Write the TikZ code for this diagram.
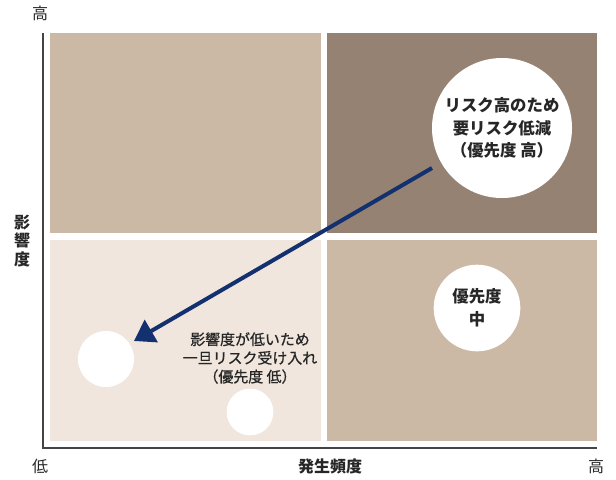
\documentclass[tikz,border=0pt]{standalone}
\usepackage{fontspec}
\setmainfont{Noto Sans CJK JP}
\newfontfamily\medfont{Noto Sans CJK JP}[FakeBold=0.8]
\usetikzlibrary{arrows.meta}
\definecolor{cellmid}{HTML}{CBB8A5}
\definecolor{celldark}{HTML}{968273}
\definecolor{celllight}{HTML}{F0E6DD}
\definecolor{arrowblue}{HTML}{13306F}
\definecolor{axisgray}{HTML}{444444}
\tikzset{
  bubble/.style={circle,fill=white,inner sep=0pt},
  bubbletext/.style={align=center,font=\fontsize{12.3}{17}\selectfont\bfseries,text=black!85},
  axislabel/.style={font=\fontsize{12}{15}\selectfont,text=black!85}
}

\begin{document}
\begin{tikzpicture}[x=0.75pt,y=-0.75pt]
  \useasboundingbox (0,0) rectangle (616,479);
  % quadrants
  \fill[cellmid]   (50,33)  rectangle (321,233);
  \fill[celldark]  (327,33) rectangle (597,233);
  \fill[celllight] (50,240) rectangle (321,441);
  \fill[cellmid]   (327,240) rectangle (597,441);
  % axes
  \draw[axisgray,line width=1.5pt]
    (43,33)
    --
    (43,448)
    --
    (597,448);
  % circles
  \node[bubble,minimum size=105pt] (high) at (502,128) {};
  \node[bubble,minimum size=65pt] (mid) at (477,308) {};
  \node[bubble,minimum size=42pt] (lowa) at (106,359) {};
  \node[bubble,minimum size=35pt] (lowb) at (250,412) {};
  \node[bubbletext] at (high) {リスク高のため\\要リスク低減\\（優先度 高）};
  \node[bubbletext] at (mid) {優先度\\中};
  \node[align=center,font=\fontsize{11.2}{14}\selectfont\medfont,text=black!85]
    (lowtext) at (250,358) {影響度が低いため\\一旦リスク受け入れ\\（優先度 低）};
  % arrow
  \coordinate (from) at (432,168);
  \coordinate (to) at (134,341);
  \draw[-{Triangle[length=15pt,width=19pt]},arrowblue,line width=3pt]
    (from)
    --
    (to);
  % axis labels
  \node[axislabel] (ytop) at (40,13) {高};
  \node[axislabel,align=center,font=\fontsize{12}{14}\selectfont\bfseries] (ytitle) at (22,241) {影\\響\\度};
  \node[axislabel] (xlow) at (40,466) {低};
  \node[axislabel,font=\fontsize{12}{15}\selectfont\bfseries] (xtitle) at (330,466) {発生頻度};
  \node[axislabel] (xhigh) at (596,466) {高};
\end{tikzpicture}
\end{document}
